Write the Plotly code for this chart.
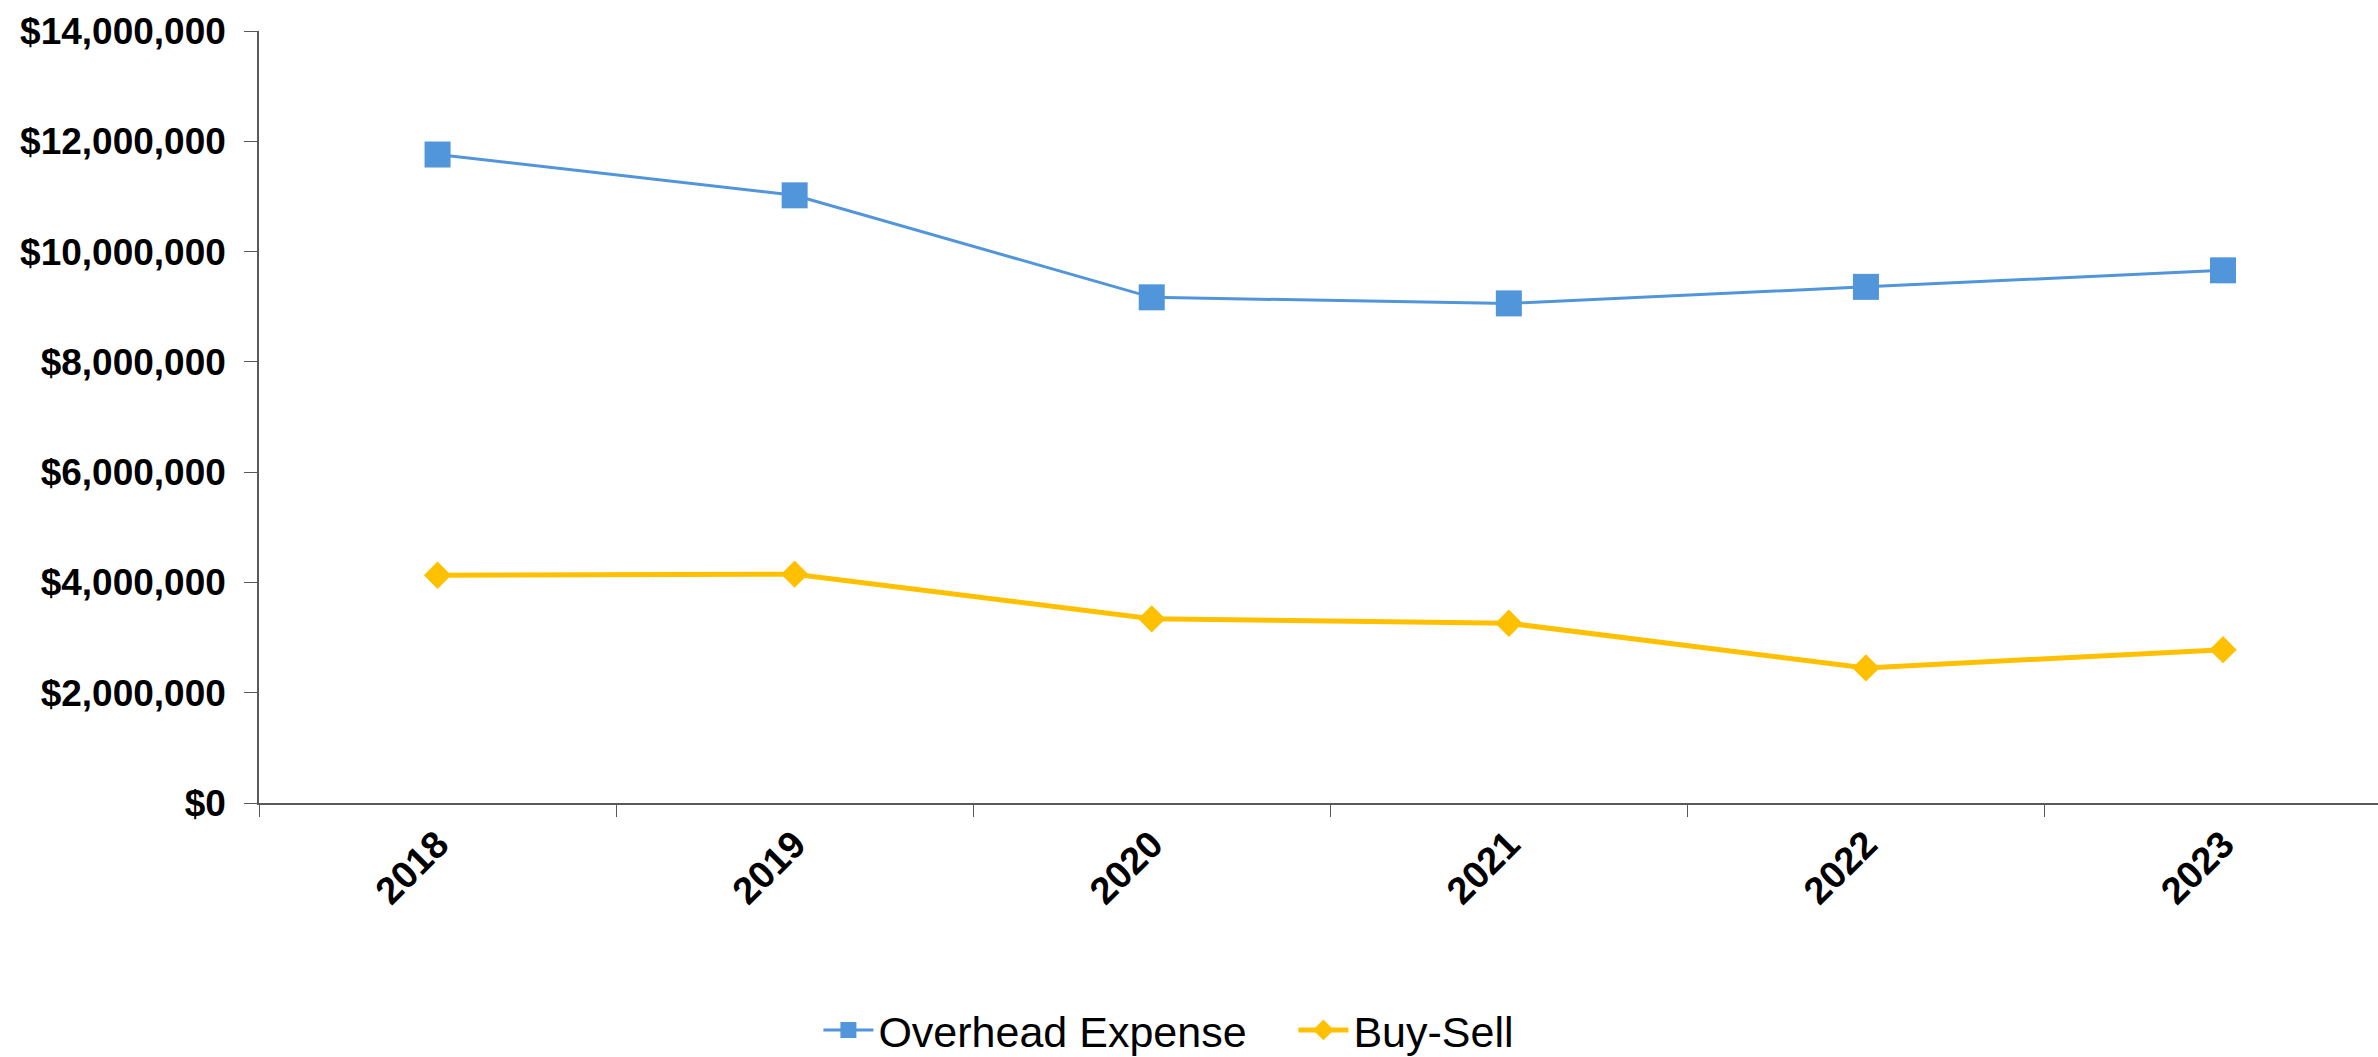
import plotly.graph_objects as go

years = ["2018", "2019", "2020", "2021", "2022", "2023"]
overhead = [11760000, 11020000, 9170000, 9060000, 9360000, 9660000]
buy_sell = [4130000, 4150000, 3340000, 3260000, 2450000, 2780000]
y_ticks = [0, 2000000, 4000000, 6000000, 8000000, 10000000, 12000000, 14000000]
y_labels = ["$0", "$2,000,000", "$4,000,000", "$6,000,000", "$8,000,000",
            "$10,000,000", "$12,000,000", "$14,000,000"]

TICKFONT = "Liberation Sans Narrow, Arial Narrow, Liberation Sans, Arial, sans-serif"
FONT = "Liberation Sans, Arial, sans-serif"

fig = go.Figure()
fig.add_trace(go.Scatter(
    x=years, y=overhead, name="Overhead Expense", mode="lines+markers",
    line=dict(color="#5195DA", width=3),
    marker=dict(symbol="square", size=26, color="#5195DA"),
))
fig.add_trace(go.Scatter(
    x=years, y=buy_sell, name="Buy-Sell", mode="lines+markers",
    line=dict(color="#FFC000", width=5),
    marker=dict(symbol="diamond", size=21, color="#FFC000"),
))

fig.update_layout(
    width=2378, height=1057,
    margin=dict(l=259, r=0, t=31, b=254, autoexpand=False),
    paper_bgcolor="white", plot_bgcolor="white",
    font=dict(family=FONT, color="black"),
    showlegend=True,
    legend=dict(orientation="h", x=0.264, xanchor="left", y=-0.294, yanchor="middle",
                font=dict(size=43, family=FONT), itemwidth=50, tracegroupgap=0,
                entrywidth=410, entrywidthmode="pixels"),
)
fig.update_xaxes(
    type="category", range=[-0.5, 5.434], automargin=False,
    showline=True, linecolor="#595959", linewidth=1.5,
    ticks="outside", ticklen=12, tickcolor="#595959", tickson="boundaries",
    tickangle=-45, showgrid=False, zeroline=False, ticklabelstandoff=2,
    tickfont=dict(size=38, family=TICKFONT, weight="bold"),
)
fig.update_yaxes(
    range=[0, 14000000], tickvals=y_ticks, ticktext=y_labels, automargin=False,
    showline=True, linecolor="#595959", linewidth=1.5,
    ticks="outside", ticklen=13, tickcolor="#595959",
    showgrid=False, zeroline=False, ticklabelstandoff=11,
    tickfont=dict(size=37, family=TICKFONT, weight="bold"),
)

fig.write_html("out.html", config={"displayModeBar": False},
               post_script="document.body.style.margin='0';")
